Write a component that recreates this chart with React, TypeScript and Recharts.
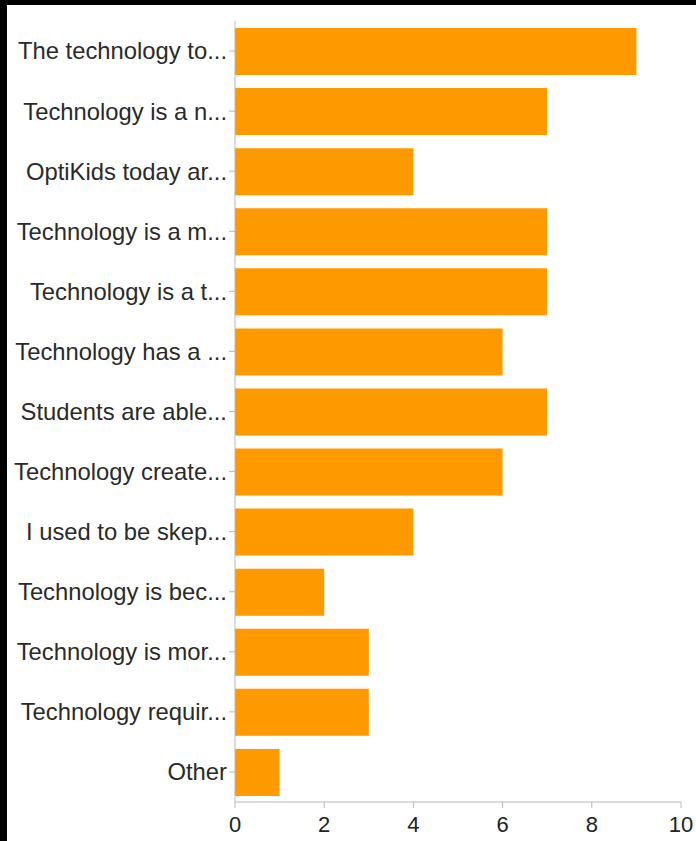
import { Bar, BarChart, XAxis, YAxis } from "recharts";

const answers = [
  "The technology to...",
  "Technology is a n...",
  "OptiKids today ar...",
  "Technology is a m...",
  "Technology is a t...",
  "Technology has a ...",
  "Students are able...",
  "Technology create...",
  "I used to be skep...",
  "Technology is bec...",
  "Technology is mor...",
  "Technology requir...",
  "Other"
];

const counts = [9, 7, 4, 7, 7, 6, 7, 6, 4, 2, 3, 3, 1];

const xTicks = [0, 2, 4, 6, 8, 10];

const rows = answers.map((name, i) => ({ name, value: counts[i] }));

const font = "'Liberation Sans', Arial, Helvetica, sans-serif";

export default function App() {
  return (
    <>
      <style>{"body{margin:0}"}</style>
      <div style={{ width: 696, height: 841, background: "#000", position: "relative" }}>
        <div style={{ position: "absolute", left: 7, top: 5, width: 689, height: 836, background: "#fff" }}>
          <BarChart
            width={689}
            height={836}
            data={rows}
            layout="vertical"
            margin={{ top: 16, right: 15, bottom: 0, left: 0 }}
          >
            <XAxis
              type="number"
              domain={[0, 10]}
              ticks={xTicks}
              stroke="#b8b8b8"
              tickSize={6}
              tickMargin={8}
              tick={{ fill: "#222", fontSize: 22, fontFamily: font }}
              height={39}
            />
            <YAxis
              type="category"
              dataKey="name"
              width={228}
              stroke="#b8b8b8"
              tickSize={6}
              tickMargin={2}
              interval={0}
              tick={{ fill: "#2a2a2a", fontSize: 23.8, fontFamily: font }}
            />
            <Bar dataKey="value" fill="#ff9900" barSize={47} isAnimationActive={false} />
          </BarChart>
        </div>
      </div>
    </>
  );
}
